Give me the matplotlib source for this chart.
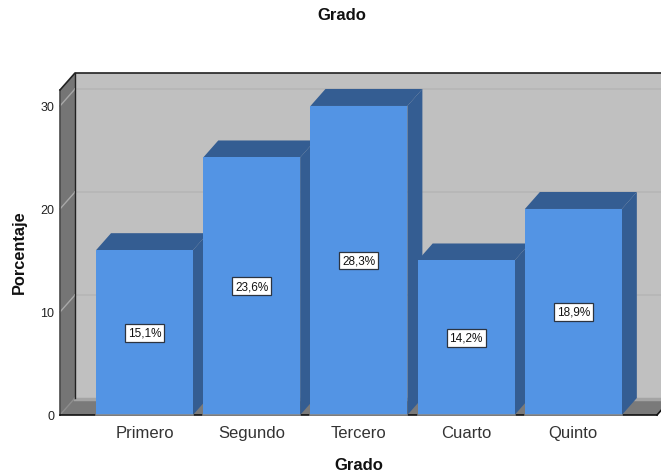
import matplotlib
matplotlib.use('Agg')
import matplotlib.pyplot as plt
from matplotlib.patches import Polygon

plt.rcParams['font.family'] = ['Liberation Sans', 'DejaVu Sans']

categories = ['Primero', 'Segundo', 'Tercero', 'Cuarto', 'Quinto']
heights = [16, 25, 30, 15, 20]
labels = ['15,1%', '23,6%', '28,3%', '14,2%', '18,9%']
yticks = [0, 10, 20, 30]

W, H = 661, 477
fig = plt.figure(figsize=(W / 100, H / 100), dpi=100)
# front plane of the 3d box, in pixels
left, right, top, bottom = 60, 657, 91, 416
ax = fig.add_axes([left / W, 1 - bottom / H, (right - left) / W, (bottom - top) / H])

ymax = 31.55
xmin, xmax = -0.788, 4.78
ax.set_xlim(xmin, xmax)
ax.set_ylim(0, ymax)
ax.patch.set_alpha(0)
for s in ax.spines.values():
    s.set_visible(False)

# depth of the box in data units
dx = 15 / 107.25
dy = 17 / 10.3
bw = 0.904


def poly(pts, fc, ec='none', lw=0, z=1):
    ax.add_patch(Polygon(pts, closed=True, fc=fc, ec=ec, lw=lw, zorder=z, clip_on=False))


# walls
poly([(xmin + dx, dy), (xmax + dx, dy), (xmax + dx, ymax + dy), (xmin + dx, ymax + dy)], '#c0c0c0')
poly([(xmin, 0), (xmin + dx, dy), (xmin + dx, ymax + dy), (xmin, ymax)], '#757575')
poly([(xmin, 0), (xmax, 0), (xmax + dx, dy), (xmin + dx, dy)], '#7a7a7a')
ax.plot([xmin + dx, xmax + dx], [dy - 0.1, dy - 0.1], color='#a4a4a4', lw=2.5, zorder=1.2, clip_on=False)

# gridlines on back wall and side wall
for t in yticks[1:]:
    ax.plot([xmin + dx, xmax + dx], [t + dy, t + dy], color='#b6b6b6', lw=1.2, zorder=1.5, clip_on=False)
    ax.plot([xmin, xmin + dx], [t, t + dy], color='#a8a8a8', lw=1, zorder=1.5, clip_on=False)
ax.plot([xmin, xmin + dx], [0, dy], color='#8c8c8c', lw=1, zorder=1.5, clip_on=False)

# box outline
ax.plot([xmin, xmin], [0, ymax], color='#4a4a4a', lw=1.2, zorder=1.6, clip_on=False)
ax.plot([xmin, xmin + dx, xmax + dx], [ymax, ymax + dy, ymax + dy], color='#222222', lw=1.2, zorder=1.6, clip_on=False)
ax.plot([xmin + dx, xmin + dx], [dy, ymax + dy], color='#222222', lw=1, zorder=1.6, clip_on=False)
ax.plot([xmin, xmax], [0, 0], color='#111111', lw=1.2, zorder=1.6, clip_on=False)
ax.plot([xmax, xmax + dx], [0, dy], color='#111111', lw=1.2, zorder=1.6, clip_on=False)

# bars
for i, v in enumerate(heights):
    x0, x1 = i - bw / 2, i + bw / 2
    poly([(x1, 0), (x1 + dx, dy), (x1 + dx, v + dy), (x1, v)], '#345d92', z=3)
    poly([(x0, v), (x1, v), (x1 + dx, v + dy), (x0 + dx, v + dy)], '#345d92', z=3)
ax.bar(range(len(categories)), heights, width=bw, color='#5394e4', edgecolor='none', zorder=3.2)
for i in range(len(categories)):
    ax.plot([i - bw / 2, i + bw / 2], [0, 0], color='#8a8a8a', lw=1.2, zorder=3.3, clip_on=False)

for i, (v, lab) in enumerate(zip(heights, labels)):
    ax.text(i, v / 2, lab, ha='center', va='center', fontsize=8.5, color='#111111', zorder=5,
            bbox=dict(boxstyle='square,pad=0.25', fc='white', ec='#2c3440', lw=0.9))

ax.set_xticks(range(len(categories)))
ax.set_xticklabels(categories, fontsize=12, color='#333333')
ax.set_yticks(yticks)
ax.set_yticklabels([str(t) for t in yticks], fontsize=9, color='#222222')
ax.tick_params(axis='both', length=0)
ax.tick_params(axis='x', pad=7)
ax.tick_params(axis='y', pad=4)

fig.text(342 / W, 1 - 15 / H, 'Grado', ha='center', va='center', fontsize=12, fontweight='bold', color='#111111')
fig.text(359 / W, 1 - 466 / H, 'Grado', ha='center', va='center', fontsize=12, fontweight='bold', color='#111111')
fig.text(19 / W, 1 - 252.5 / H, 'Porcentaje', ha='center', va='center', rotation=90, fontsize=11.8, fontweight='bold', color='#111111')

fig.savefig('out.png', dpi=100)
